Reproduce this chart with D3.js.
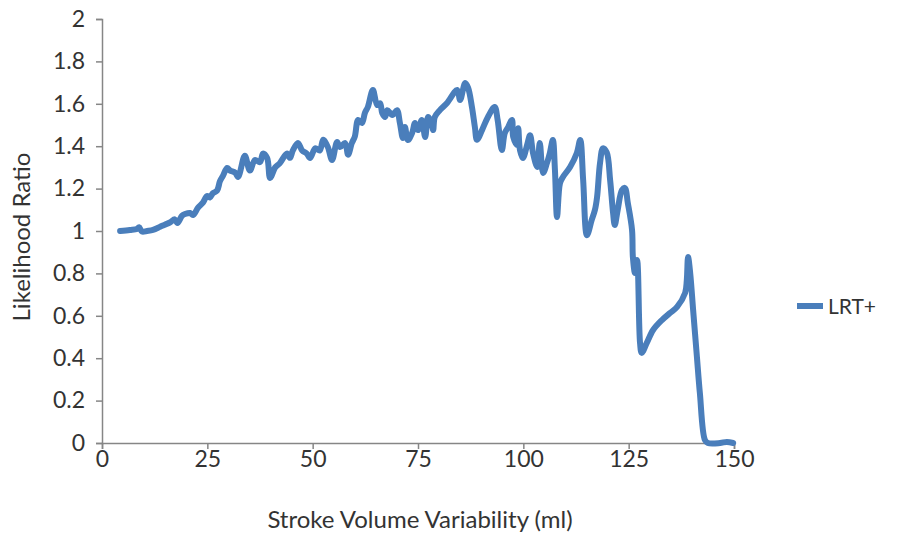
<!DOCTYPE html>
<html>
<head>
<meta charset="utf-8">
<script src="https://cdn.jsdelivr.net/npm/d3@7"></script>
<style>
  body { margin: 0; background: #fff; }
  svg text { font-family: Lato, "Open Sans", sans-serif; fill: #333; }
</style>
</head>
<body>
<svg id="chart" width="907" height="537"></svg>
<script>
// Stroke volume variability (ml) and positive likelihood ratio
const svv = [4.3, 6.6, 8.3, 8.8, 9.5, 10.7, 12.1, 13.8, 14.9, 16.1, 17.3, 17.9, 19.0, 19.7, 20.9, 21.6,
  22.8, 24.0, 24.9, 25.6, 26.3, 27.3, 28.0, 28.7, 29.7, 30.4, 31.6, 32.3, 33.9, 35.1, 36.3, 37.5,
  38.2, 39.2, 39.9, 41.1, 42.2, 43.9, 44.6, 45.3, 46.5, 47.5, 48.6, 49.4, 50.6, 51.7, 52.5, 53.6,
  54.6, 55.8, 56.5, 57.7, 58.4, 59.3, 60.0, 60.8, 61.7, 62.4, 63.1, 64.3, 65.3, 66.0, 66.5, 67.2,
  67.7, 68.9, 70.0, 70.7, 71.4, 71.9, 72.6, 73.6, 74.3, 75.0, 75.9, 76.7, 77.4, 78.3, 78.6, 79.0,
  80.2, 81.9, 84.3, 85.0, 86.2, 86.9, 87.8, 88.5, 89.0, 90.2, 91.6, 93.2, 93.9, 94.9, 95.6, 96.4,
  97.3, 97.6, 98.5, 98.8, 99.2, 99.9, 100.9, 101.6, 102.3, 103.3, 103.9, 104.7, 105.6, 106.3, 107.0,
  107.5, 108.0, 108.7, 109.4, 111.1, 112.7, 113.5, 114.2, 115.1, 116.2, 117.0, 117.5, 118.2, 118.9,
  119.8, 120.6, 121.3, 121.7, 122.4, 123.4, 124.1, 124.8, 125.8, 126.0, 126.5, 127.0, 127.7, 128.1,
  129.3, 130.8, 132.9, 134.8, 136.5, 138.4, 138.8, 139.1, 139.6, 140.3, 141.2, 141.9, 143.1, 143.8,
  146.7, 148.3, 149.8];
const lrtPlus = [1.0, 1.005, 1.01, 1.018, 0.997, 1.0, 1.005, 1.02, 1.03, 1.04, 1.055, 1.038, 1.072, 1.08, 1.085, 1.075,
  1.11, 1.135, 1.165, 1.158, 1.178, 1.19, 1.235, 1.26, 1.297, 1.285, 1.275, 1.255, 1.355, 1.285, 1.335, 1.325,
  1.365, 1.344, 1.25, 1.30, 1.32, 1.365, 1.345, 1.38, 1.415, 1.38, 1.365, 1.344, 1.39, 1.38, 1.43, 1.396,
  1.335, 1.42, 1.396, 1.415, 1.36, 1.415, 1.445, 1.524, 1.509, 1.557, 1.585, 1.665, 1.594, 1.603, 1.557, 1.538,
  1.57, 1.547, 1.57, 1.51, 1.439, 1.491, 1.429, 1.462, 1.51, 1.476, 1.524, 1.443, 1.538, 1.5, 1.476, 1.538,
  1.57, 1.604, 1.665, 1.618, 1.698, 1.675, 1.585, 1.49, 1.43, 1.476, 1.538, 1.585, 1.524, 1.382, 1.462, 1.49,
  1.524, 1.443, 1.406, 1.485, 1.382, 1.344, 1.406, 1.452, 1.368, 1.302, 1.415, 1.274, 1.32, 1.368, 1.429,
  1.288, 1.066, 1.226, 1.255, 1.302, 1.368, 1.429, 1.24, 0.98, 1.05, 1.1, 1.16, 1.32, 1.39,
  1.37, 1.24, 1.085, 1.028, 1.1, 1.193, 1.203, 1.132, 1.005, 0.877, 0.802, 0.863, 0.472, 0.425,
  0.472, 0.533, 0.58, 0.613, 0.642, 0.708, 0.769, 0.877, 0.802, 0.627, 0.406, 0.236, 0.014, 0,
  0, 0.005, 0];

const xTicks = [0, 25, 50, 75, 100, 125, 150];
const yTicks = [0, 0.2, 0.4, 0.6, 0.8, 1, 1.2, 1.4, 1.6, 1.8, 2];
const seriesName = "LRT+";
const xTitle = "Stroke Volume Variability (ml)";
const yTitle = "Likelihood Ratio";

const lineColor = "#4a7ebb";
const axisColor = "#868686";

const svg = d3.select("#chart");
const plot = { left: 102, right: 734, top: 19, bottom: 443 };

const x = d3.scaleLinear().domain([0, 150]).range([plot.left, plot.right]);
const y = d3.scaleLinear().domain([0, 2]).range([plot.bottom, plot.top]);

// axes
const xAxis = svg.append("g")
  .attr("transform", `translate(0,${plot.bottom})`)
  .call(d3.axisBottom(x).tickValues(xTicks).tickSize(6).tickPadding(2).tickFormat(d3.format("d")));
const yAxis = svg.append("g")
  .attr("transform", `translate(${plot.left},0)`)
  .call(d3.axisLeft(y).tickValues(yTicks).tickSize(6).tickPadding(11).tickFormat(d => String(+d.toFixed(1))));

[xAxis, yAxis].forEach(g => {
  g.select(".domain").attr("stroke", axisColor).attr("stroke-width", 1.5);
  g.selectAll(".tick line").attr("stroke", axisColor).attr("stroke-width", 1.5);
  g.selectAll(".tick text").attr("fill", "#333").style("font-size", "23px").style("font-family", "Lato, sans-serif");
});

// LRT+ curve
const pts = svv.map((v, i) => [v, lrtPlus[i]]);
const line = d3.line()
  .x(d => x(d[0]))
  .y(d => y(d[1]))
  .curve(d3.curveCatmullRom.alpha(0.5));

svg.append("path")
  .datum(pts)
  .attr("d", line)
  .attr("fill", "none")
  .attr("stroke", lineColor)
  .attr("stroke-width", 6)
  .attr("stroke-linejoin", "round")
  .attr("stroke-linecap", "round");

// axis titles
svg.append("text")
  .attr("x", 420)
  .attr("y", 528)
  .attr("text-anchor", "middle")
  .style("font-size", "24px")
  .text(xTitle);

svg.append("text")
  .attr("transform", `translate(30,237) rotate(-90)`)
  .attr("text-anchor", "middle")
  .style("font-size", "24px")
  .text(yTitle);

// legend
const legend = svg.append("g").attr("transform", "translate(797,306)");
legend.append("line")
  .attr("x1", 0).attr("x2", 26).attr("y1", 0).attr("y2", 0)
  .attr("stroke", lineColor).attr("stroke-width", 6);
legend.append("text")
  .attr("x", 31).attr("y", 8)
  .style("font-size", "21px")
  .text(seriesName);
</script>
</body>
</html>
